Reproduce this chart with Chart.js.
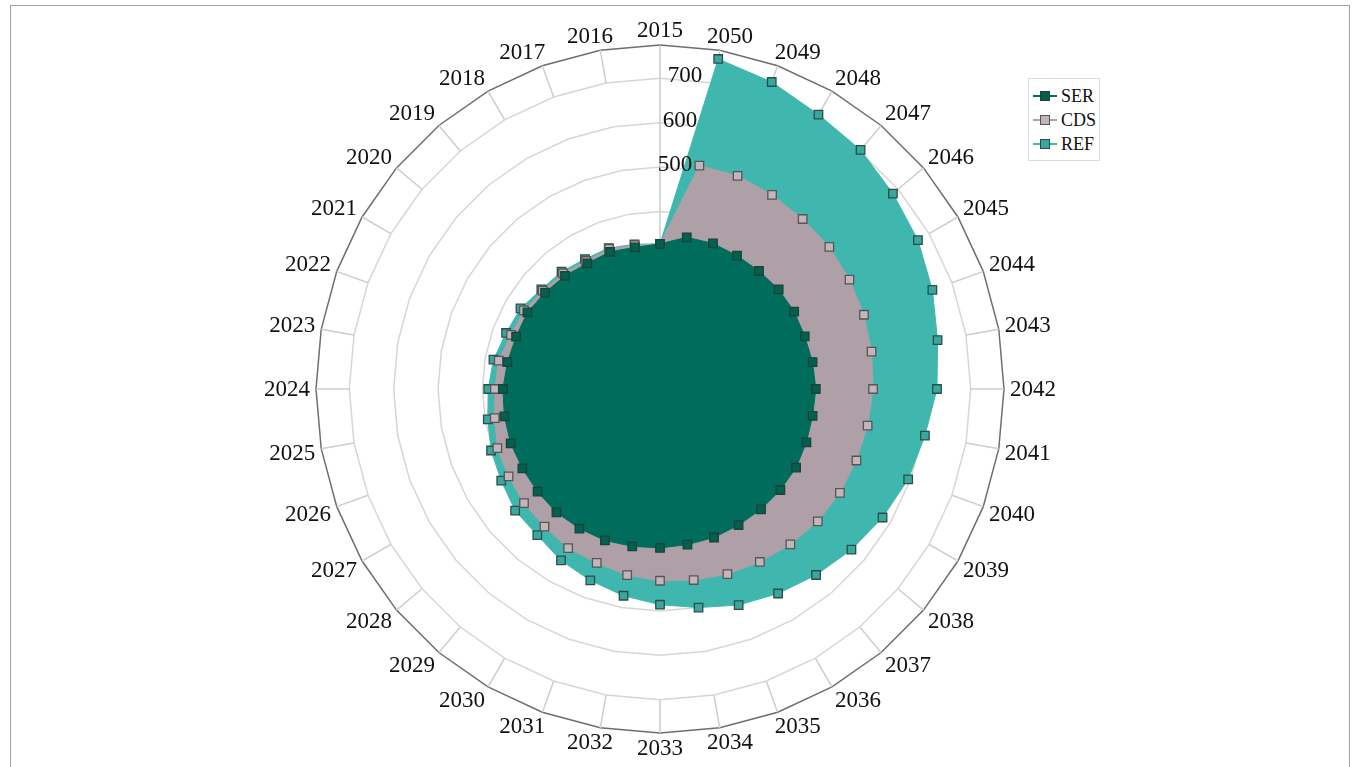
<!DOCTYPE html>
<html>
<head>
<meta charset="utf-8">
<script src="https://cdn.jsdelivr.net/npm/chart.js@4"></script>
<style>
  html, body { margin: 0; padding: 0; background: #fff; }
  #wrap { position: relative; width: 1356px; height: 767px; overflow: hidden; }
  #frame { position: absolute; left: 10px; top: 5px; width: 1338px; height: 780px; border: 1px solid #a0a0a0; }
  #legend {
    position: absolute; left: 1028px; top: 78px; width: 70px; padding: 5px 0 4px 0;
    border: 1px solid #dcdcdc; background: #fff;
    font-family: "Liberation Serif", serif; font-size: 18px; color: #111;
  }
  #legend .row { display: flex; align-items: center; height: 24px; }
  #legend .key { position: relative; width: 24px; height: 12px; margin: 0 4px 0 4px; }
  #legend .key .ln { position: absolute; left: 0; right: 0; top: 5px; height: 2px; }
  #legend .key .pt { position: absolute; left: 7px; top: 1px; width: 8px; height: 8px; border: 1px solid #444; }
</style>
</head>
<body>
<div id="wrap">
  <div id="frame"></div>
  <canvas id="radar" width="1356" height="767"></canvas>
  <div id="legend"></div>
</div>
<script>
document.addEventListener("DOMContentLoaded", function () {

  // years, in the source data order
  const years = ["2015","2016","2017","2018","2019","2020","2021","2022","2023","2024",
                 "2025","2026","2027","2028","2029","2030","2031","2032","2033","2034",
                 "2035","2036","2037","2038","2039","2040","2041","2042","2043","2044",
                 "2045","2046","2047","2048","2049","2050"];

  const ser = [327,324,329,327,333,338,345,345,349,354,356,358,358,360,363,363,363,360,
               358,356,356,354,354,354,354,351,349,351,349,347,349,349,347,347,349,347];
  const cds = [327,329,336,333,340,345,354,357,369,372,378,390,394,400,405,414,417,426,
               432,437,444,450,457,464,468,471,475,480,484,489,493,498,500,505,511,511];
  const ref = [327,331,338,338,345,349,363,369,381,387,394,405,413,426,430,446,459,473,
               486,500,518,532,547,563,579,595,606,624,635,653,671,685,703,714,736,755];

  const tickValues = [500, 600, 700];
  const scaleMax = 775;

  // the picture runs counter-clockwise from 2015, so reorder for chart.js
  const order = [0].concat(years.map((y, i) => i).slice(1).reverse());
  const pick = arr => order.map(i => arr[i]);

  const series = [
    { label: "SER", data: ser, fill: "#006d5c", point: "#00614f", edge: "#1f3f38" },
    { label: "CDS", data: cds, fill: "#afa0a7", point: "#c3b6bb", edge: "#5a5356" },
    { label: "REF", data: ref, fill: "#40b7ae", point: "#3aa79f", edge: "#2a4e4a" }
  ];

  const labelFont = "23px 'Liberation Serif'";

  // angle marks in the outer band, the 2015 axis, tick and category labels
  const axisMarks = {
    id: "axisMarks",
    beforeDatasetsDraw(chart) {
      const s = chart.scales.r;
      const ctx = chart.ctx;
      const inner = s.getDistanceFromCenterForValue(700);
      const outer = s.drawingArea;
      ctx.save();
      ctx.lineWidth = 1.5;
      ctx.strokeStyle = "#cdcdcd";
      for (let i = 0; i < chart.data.labels.length; i++) {
        const a = s.getPointPosition(i, i === 0 ? 0 : inner);
        const b = s.getPointPosition(i, outer);
        ctx.beginPath();
        ctx.moveTo(a.x, a.y);
        ctx.lineTo(b.x, b.y);
        ctx.stroke();
      }
      ctx.restore();
    },
    afterDatasetsDraw(chart) {
      const s = chart.scales.r;
      const ctx = chart.ctx;
      const n = chart.data.labels.length;
      ctx.save();
      ctx.font = labelFont;
      ctx.fillStyle = "#111";
      ctx.textAlign = "center";
      ctx.textBaseline = "middle";

      tickValues.forEach((v, k) => {
        const d = s.getDistanceFromCenterForValue(v);
        ctx.fillText(String(v), s.xCenter + 15 + k * 5, s.yCenter - d - 2);
      });

      // category labels, placed a bit like the office chart does it
      chart.data.labels.forEach((lab, i) => {
        const ang = i * 2 * Math.PI / n;
        const sn = Math.sin(ang), cs = Math.cos(ang);
        const p = s.getPointPosition(i, s.drawingArea + 6);
        const hw = ctx.measureText(lab).width / 2;
        const fx = Math.max(-1, Math.min(1, 2.3 * sn));
        const fy = 1.1 * Math.sign(cs) * Math.sqrt(Math.abs(cs));
        ctx.fillText(lab, p.x + hw * fx, p.y - 8 * fy + 1);
      });
      ctx.restore();
    }
  };

  new Chart(document.getElementById("radar"), {
    type: "radar",
    data: {
      labels: pick(years),
      datasets: series.map(sr => ({
        label: sr.label,
        data: pick(sr.data),
        fill: true,
        backgroundColor: sr.fill,
        borderColor: sr.fill,
        borderWidth: 1,
        pointStyle: "rect",
        pointRadius: 6,
        pointBackgroundColor: sr.point,
        pointBorderColor: sr.edge,
        pointBorderWidth: 1.3
      }))
    },
    options: {
      responsive: false,
      animation: false,
      layout: { padding: { top: 45, bottom: 34, left: 0, right: 36 } },
      plugins: { legend: { display: false }, tooltip: { enabled: false } },
      scales: {
        r: {
          min: 0,
          max: scaleMax,
          ticks: { stepSize: 100, display: false },
          angleLines: { display: false },
          grid: {
            circular: false,
            lineWidth: 1.5,
            color: ctx => ctx.tick && ctx.tick.value === scaleMax ? "#6e6e6e" : "#d6d6d6"
          },
          pointLabels: { display: false }
        }
      }
    },
    plugins: [axisMarks]
  });

  // legend
  const legend = document.getElementById("legend");
  series.forEach(sr => {
    const row = document.createElement("div");
    row.className = "row";
    row.innerHTML = `<span class="key"><span class="ln" style="background:${sr.fill}"></span>
      <span class="pt" style="background:${sr.point};border-color:${sr.edge}"></span></span>${sr.label}`;
    legend.appendChild(row);
  });
});
</script>
</body>
</html>
